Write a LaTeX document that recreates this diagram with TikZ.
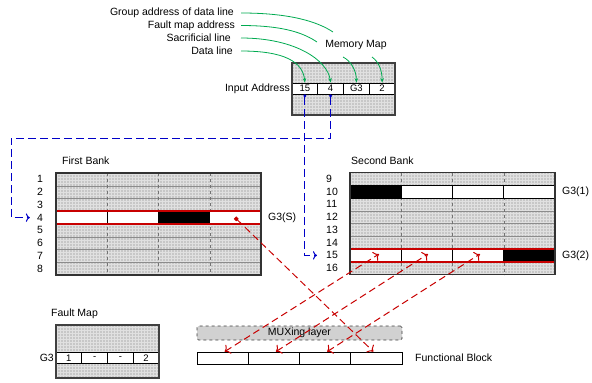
\documentclass[tikz,border=0pt]{standalone}
\usepackage{fontspec}
\setmainfont{Liberation Sans}
\usetikzlibrary{arrows.meta}
\definecolor{mygreen}{RGB}{0,170,80}
\definecolor{myblue}{RGB}{0,0,200}
\definecolor{myred}{RGB}{200,0,0}
\tikzset{
    texture/.style={fill=black!22},
    gridline/.style={draw=black!12, step=3pt, line width=0.3pt},
    rowline/.style={draw=black!45, line width=0.4pt},
    colline/.style={draw=black!55, dashed, line width=0.4pt},
    redline/.style={draw=myred, line width=2pt},
    frame/.style={draw=black!80, line width=1.2pt},
    cell/.style={draw, fill=white, line width=0.7pt, minimum width=25.75pt, minimum height=11pt, inner sep=0pt, font=\fontsize{9.5}{10}\selectfont},
    fbcell/.style={draw, fill=white, line width=0.7pt, minimum width=51.25pt, minimum height=12pt, inner sep=0pt},
    lbl/.style={inner sep=1pt, font=\fontsize{10.5}{12}\selectfont},
    greenarrow/.style={draw=mygreen, line width=0.8pt},
    bluearrow/.style={draw=myblue, line width=1pt, dash pattern=on 8pt off 4pt},
    redarrow/.style={draw=myred, line width=1pt, dash pattern=on 7pt off 4pt},
}
\begin{document}
\begin{tikzpicture}[x=1pt, y=-1pt]
    \useasboundingbox (0,0) rectangle (592,383);
    % grey textured areas
    \foreach \xa/\ya/\xb/\yb in {56/173/261/275, 350/172.5/555/274.5, 292/63/395/115, 56/325/159/378} {
        \fill[texture] (\xa,\ya) rectangle (\xb,\yb);
        \draw[gridline] (\xa,\yb) grid (\xb,\ya);
    }
    % first bank
    \foreach \r in {1,...,7}
        \draw[rowline] (56, {173+\r*12.75}) -- (261, {173+\r*12.75});
    \foreach \c in {1,...,3}
        \draw[colline] ({56+\c*51.25}, 173) -- ({56+\c*51.25}, 275);
    \foreach \c in {0,...,3}
        \draw[fill=white, line width=0.7pt] ({56+\c*51.25}, 211.25) rectangle ({56+(\c+1)*51.25}, 224);
    \fill (158.5, 211.25) rectangle (209.75, 224);
    \draw[redline] (56, 211.25) -- (261, 211.25) (56, 224) -- (261, 224);
    \draw[frame] (56, 173) rectangle (261, 275);
    \node[lbl, anchor=west] (fbank) at (61, 161) {First Bank};
    \foreach \r in {1,...,8}
        \node[lbl] (lbl\r) at (40, {173+(\r-0.5)*12.75}) {\r};
    \node[lbl, anchor=west] (g3s) at (267, 217.6) {G3(S)};
    % second bank
    \foreach \r in {1,...,7}
        \draw[rowline] (350, {172.5+\r*12.75}) -- (555, {172.5+\r*12.75});
    \foreach \c in {1,...,3}
        \draw[colline] ({350+\c*51.25}, 172.5) -- ({350+\c*51.25}, 274.5);
    \foreach \c in {0,...,3} {
        \draw[fill=white, line width=0.7pt] ({350+\c*51.25}, 185.25) rectangle ({350+(\c+1)*51.25}, 198);
        \draw[fill=white, line width=0.7pt] ({350+\c*51.25}, 249) rectangle ({350+(\c+1)*51.25}, 261.75);
    }
    \fill (350, 185.25) rectangle (401.25, 198);
    \fill (503.75, 249) rectangle (555, 261.75);
    \draw[redline] (350, 249) -- (555, 249) (350, 261.75) -- (555, 261.75);
    \draw[frame] (350, 172.5) rectangle (555, 274.5);
    \node[lbl, anchor=west] (sbank) at (350, 161) {Second Bank};
    \foreach \r in {9,...,16}
        \node[lbl, anchor=west] (lbl\r) at (325, {172.5+(\r-8.5)*12.75}) {\r};
    \node[lbl, anchor=west] (g3one) at (561, 191.6) {G3(1)};
    \node[lbl, anchor=west] (g3two) at (561, 255.4) {G3(2)};
    % memory map
    \node[cell] (in15) at (304.875, 88.5) {15};
    \node[cell] (in4) at (330.625, 88.5) {4};
    \node[cell] (inG3) at (356.375, 88.5) {G3};
    \node[cell] (in2) at (382.125, 88.5) {2};
    \draw[frame, draw=black!75] (292, 63) rectangle (395, 115);
    \node[lbl, anchor=east] (inaddr) at (291, 88.5) {Input Address};
    \node[lbl] (mm) at (356, 45) {Memory Map};
    \node[lbl, anchor=east] (gad) at (235, 13) {Group address of data line};
    \node[lbl, anchor=east] (fma) at (236, 25.5) {Fault map address};
    \node[lbl, anchor=east] (sac) at (232, 38) {Sacrificial line};
    \node[lbl, anchor=east] (dl) at (234, 51) {Data line};
    \coordinate (gadend) at (333, 32);
    \coordinate (fmaend) at (317, 42);
    \coordinate (mmg) at (343, 57);
    \coordinate (mmt) at (372, 57);
    % fault map
    \node[cell] (fm1) at (68.875, 358) {1};
    \node[cell] (fm2) at (94.625, 358) {-};
    \node[cell] (fm3) at (120.375, 358) {-};
    \node[cell] (fm4) at (146.125, 358) {2};
    \draw[frame, draw=black!75] (56, 325) rectangle (159, 378);
    \node[lbl, anchor=west] (fmap) at (50, 314) {Fault Map};
    \node[lbl, anchor=east] (fmg3) at (55, 358) {G3};
    % muxing layer and functional block
    \node[draw=black!75, dashed, fill=black!18, rounded corners=1.5pt, line width=0.7pt,
          minimum width=205pt, minimum height=14pt, inner sep=0pt, font=\fontsize{10.5}{12}\selectfont] (mux) at (299.5, 333) {MUXing layer};
    \foreach \i in {1,...,4}
        \node[fbcell] (fb\i) at ({197+(\i-0.5)*51.25}, 358) {};
    \node[lbl, anchor=west] (fblock) at (414, 358) {Functional Block};
    % green arrows
    \draw[greenarrow] ([xshift=6pt]gad.east) .. controls +(50,0) and +(-15,-10) .. (gadend);
    \draw[greenarrow] ([xshift=5pt]fma.east) .. controls +(45,0) and +(-12,-8) .. (fmaend);
    \draw[greenarrow, -{Stealth[length=4.5pt, width=3.5pt]}] ([xshift=9pt]sac.east) .. controls +(55,0) and +(-3,-22) .. (in4.north);
    \draw[greenarrow, -{Stealth[length=4.5pt, width=3.5pt]}] ([xshift=7pt]dl.east) .. controls +(43,0) and +(-2,-21) .. (in15.north);
    \draw[greenarrow, -{Stealth[length=4.5pt, width=3.5pt]}] (mmg) .. controls +(8,4) and +(0,-12) .. (inG3.north);
    \draw[greenarrow, -{Stealth[length=4.5pt, width=3.5pt]}] (mmt) .. controls +(7,5) and +(0,-12) .. (in2.north);
    % blue address lines
    \coordinate (bend4) at (11, 138);
    \draw[bluearrow, {Circle[length=3pt]}-{To[length=4pt]}, shorten >=8pt] (in15.south) |- (lbl15.west);
    \draw[bluearrow, {Circle[length=3pt]}-{To[length=4pt]}, shorten >=6pt] (in4.south) |- (bend4) |- (lbl4.west);
    % red data paths
    \coordinate (s4) at (235, 217.6);
    \coordinate (b15c1) at (379, 254);
    \coordinate (b15c2) at (428, 254);
    \coordinate (b15c3) at (480, 254);
    \draw[redarrow, {Square[length=3.5pt]}-{To[length=5pt]}] (s4) -- ([xshift=-3pt]fb4.north);
    \foreach \i in {1,...,3}
        \draw[redarrow, {To[length=5pt]}-{To[length=5pt]}] ([xshift=2pt]fb\i.north) -- (b15c\i);
\end{tikzpicture}
\end{document}
